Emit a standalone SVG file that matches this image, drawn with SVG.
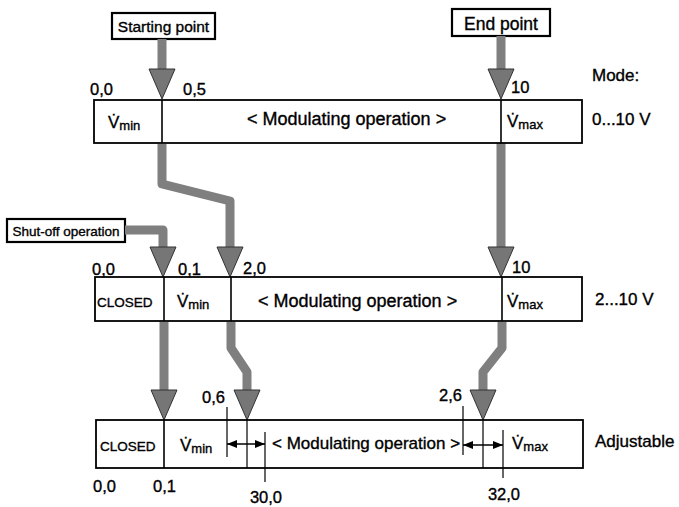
<svg xmlns="http://www.w3.org/2000/svg" width="679" height="507" viewBox="0 0 679 507">
<style>
text{font-family:"Liberation Sans",Arial,Helvetica,sans-serif;fill:#000;stroke:#000;stroke-width:0.35;font-size:17px}
.lbl{font-size:16.5px}
.small{font-size:13.5px}
.sub{font-size:13px}
.mod{font-size:18px}
.box{fill:#fff;stroke:#000;stroke-width:1.8}
.tag{fill:#fff;stroke:#000;stroke-width:2.2}
.div{stroke:#000;stroke-width:1.6;fill:none}
.thin{stroke:#000;stroke-width:1.2;fill:none}
.shaft{fill:none;stroke:#7f7f7f;stroke-width:9;stroke-linejoin:round}
.head{fill:#767676;stroke:#333;stroke-width:1}
.dim{stroke:#000;stroke-width:1.4;fill:none}
</style>
<defs>
<marker id="bigHead" markerUnits="userSpaceOnUse" markerWidth="32" markerHeight="28" viewBox="0 -14 32 28" refX="0" refY="0" orient="auto" overflow="visible"><path class="head" d="M0,-13 L30,0 L0,13 Z"/></marker>
<marker id="dimHead" markerUnits="userSpaceOnUse" markerWidth="10" markerHeight="8" viewBox="0 -4 10 8" refX="10" refY="0" orient="auto-start-reverse"><path d="M0,-4 L10,0 L0,4 Z" fill="#000"/></marker>
</defs>

<g id="starting-point">
<rect class="tag" x="112" y="13" width="103" height="26"/>
<text x="163.5" y="32" text-anchor="middle" style="font-size:15.5px">Starting point</text>
</g>
<g id="end-point">
<rect class="tag" x="452" y="9" width="98" height="27"/>
<text x="501" y="30" text-anchor="middle" style="font-size:17.5px">End point</text>
</g>
<g id="shut-off">
<rect class="tag" x="7" y="219" width="118" height="23"/>
<text class="small" x="66" y="236" text-anchor="middle">Shut-off operation</text>
</g>

<g id="connectors">
<path class="shaft" d="M162,39 V69" marker-end="url(#bigHead)"/>
<path class="shaft" d="M162,144 V184 L230,201 V247" marker-end="url(#bigHead)"/>
<path class="shaft" d="M125,230 H163 V247" marker-end="url(#bigHead)"/>
<path class="shaft" d="M164,322 V390" marker-end="url(#bigHead)"/>
<path class="shaft" d="M231,322 V348 L247,372 V390" marker-end="url(#bigHead)"/>
<path class="shaft" d="M501,36 V69" marker-end="url(#bigHead)"/>
<path class="shaft" d="M501,143 V247" marker-end="url(#bigHead)"/>
<path class="shaft" d="M502,322 V348 L483,372 V390" marker-end="url(#bigHead)"/>
</g>

<g id="row1">
<rect class="box" x="94" y="100" width="488" height="43"/>
<line class="div" x1="162" y1="100" x2="162" y2="143"/>
<line class="div" x1="501" y1="100" x2="501" y2="143"/>
<text x="108" y="128">V̇<tspan class="sub" dy="2">min</tspan></text>
<text class="mod" x="247" y="125">&lt; Modulating operation &gt;</text>
<text x="507" y="127">V̇<tspan class="sub" dy="2">max</tspan></text>
<text class="lbl" x="90" y="95">0,0</text>
<text class="lbl" x="183" y="95">0,5</text>
<text class="lbl" x="511" y="93">10</text>
<text x="592" y="81">Mode:</text>
<text x="592" y="125">0...10 V</text>
</g>

<g id="row2">
<rect class="box" x="95" y="277" width="487" height="44"/>
<line class="div" x1="164" y1="277" x2="164" y2="321"/>
<line class="div" x1="231" y1="277" x2="231" y2="321"/>
<line class="div" x1="502" y1="277" x2="502" y2="321"/>
<text class="small" x="97" y="307">CLOSED</text>
<text x="177" y="307">V̇<tspan class="sub" dy="2">min</tspan></text>
<text class="mod" x="258" y="307">&lt; Modulating operation &gt;</text>
<text x="507" y="307">V̇<tspan class="sub" dy="2">max</tspan></text>
<text class="lbl" x="92" y="275">0,0</text>
<text class="lbl" x="178" y="275">0,1</text>
<text class="lbl" x="243" y="274">2,0</text>
<text class="lbl" x="512" y="273">10</text>
<text x="595" y="305">2...10 V</text>
</g>

<g id="row3">
<rect class="box" x="96" y="420" width="487" height="48"/>
<line class="div" x1="164" y1="420" x2="164" y2="468"/>
<line class="thin" x1="247" y1="420" x2="247" y2="468"/>
<line class="thin" x1="483" y1="420" x2="483" y2="468"/>
<line class="thin" x1="227" y1="407" x2="227" y2="457"/>
<line class="thin" x1="265" y1="432" x2="265" y2="482"/>
<line class="thin" x1="463" y1="406" x2="463" y2="455"/>
<line class="thin" x1="503" y1="430" x2="503" y2="478"/>
<text class="small" x="100" y="451">CLOSED</text>
<text x="180" y="451">V̇<tspan class="sub" dy="2">min</tspan></text>
<text x="272" y="449">&lt; Modulating operation &gt;</text>
<text x="512" y="449">V̇<tspan class="sub" dy="2">max</tspan></text>
<text class="lbl" x="202" y="403">0,6</text>
<text class="lbl" x="439" y="401">2,6</text>
<text class="lbl" x="93" y="492">0,0</text>
<text class="lbl" x="153" y="492">0,1</text>
<text class="lbl" x="266" y="503" text-anchor="middle">30,0</text>
<text class="lbl" x="504" y="500" text-anchor="middle">32,0</text>
<text x="595" y="447">Adjustable</text>
</g>

<g id="dimensions">
<line class="dim" x1="227" y1="444" x2="265" y2="444" marker-start="url(#dimHead)" marker-end="url(#dimHead)"/>
<line class="dim" x1="463" y1="445" x2="503" y2="445" marker-start="url(#dimHead)" marker-end="url(#dimHead)"/>
</g>
</svg>
